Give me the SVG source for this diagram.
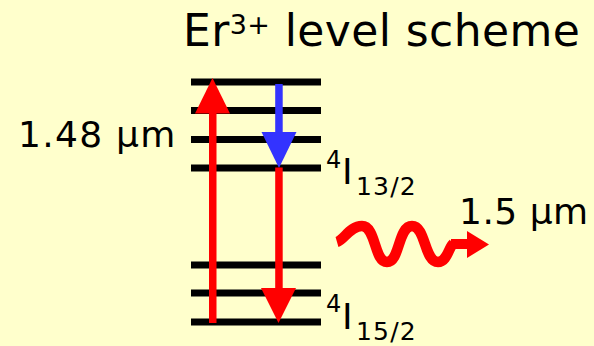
<svg xmlns="http://www.w3.org/2000/svg" width="594" height="346" viewBox="0 0 594 346">
  <style>
    .lvl { stroke: #000; stroke-width: 7; }
    .txt { font-family: "DejaVu Sans", "Liberation Sans", sans-serif; fill: #000; }
    .sub { font-size: 25px; letter-spacing: 1.2px; }
    .red { fill: #FF0000; }
    .blue { fill: #3333FF; }
  </style>
  <rect width="594" height="346" fill="#FFFFCC"/>
  <g id="title">
    <text class="txt" x="183" y="46" font-size="44" letter-spacing="0.4">Er<tspan font-size="27" dy="-12">3+</tspan><tspan dy="12"> level scheme</tspan></text>
  </g>
  <g id="levels-upper">
    <line class="lvl" x1="191" y1="82" x2="321" y2="82"/>
    <line class="lvl" x1="191" y1="110.5" x2="321" y2="110.5"/>
    <line class="lvl" x1="191" y1="139.5" x2="321" y2="139.5"/>
    <line class="lvl" x1="191" y1="168" x2="321" y2="168"/>
  </g>
  <g id="levels-lower">
    <line class="lvl" x1="191" y1="265" x2="321" y2="265"/>
    <line class="lvl" x1="191" y1="293" x2="321" y2="293"/>
    <line class="lvl" x1="191" y1="322" x2="321" y2="322"/>
  </g>
  <g id="connectors">
    <rect class="red" x="209" y="110" width="7.5" height="213"/>
    <polygon class="red" points="195,113.5 230,113.5 212.5,78"/>
    <rect class="blue" x="275.2" y="84" width="7.5" height="50"/>
    <polygon class="blue" points="261.5,132 296.5,132 279,168"/>
    <rect class="red" x="275.2" y="167.5" width="7.5" height="122"/>
    <polygon class="red" points="261,288 296,288 278.5,323"/>
  </g>
  <g id="photon">
    <path d="M337,242 C344,240 350,226 362,226 C376,226 374,262 387,262 C400,262 398,226 412,226 C426,226 424,262 438,262 C447,262 449,247 453,244" fill="none" stroke="#FF0000" stroke-width="10.5"/>
    <rect class="red" x="451" y="239" width="17" height="10"/>
    <polygon class="red" points="467,231 489,244.5 467,258"/>
  </g>
  <g id="label-pump">
    <text class="txt" x="18" y="147" font-size="36" letter-spacing="1.3">1.48 μm</text>
  </g>
  <g id="label-emission">
    <text class="txt" x="459" y="224" font-size="36" letter-spacing="0.5">1.5 μm</text>
  </g>
  <g id="label-4I13">
    <text class="txt" x="326" y="168" font-size="24">4</text>
    <text class="txt" x="342" y="184" font-size="36">I</text>
    <text class="txt sub" x="356" y="195">13/2</text>
  </g>
  <g id="label-4I15">
    <text class="txt" x="326" y="312" font-size="24">4</text>
    <text class="txt" x="342" y="329" font-size="36">I</text>
    <text class="txt sub" x="356" y="340">15/2</text>
  </g>
</svg>
